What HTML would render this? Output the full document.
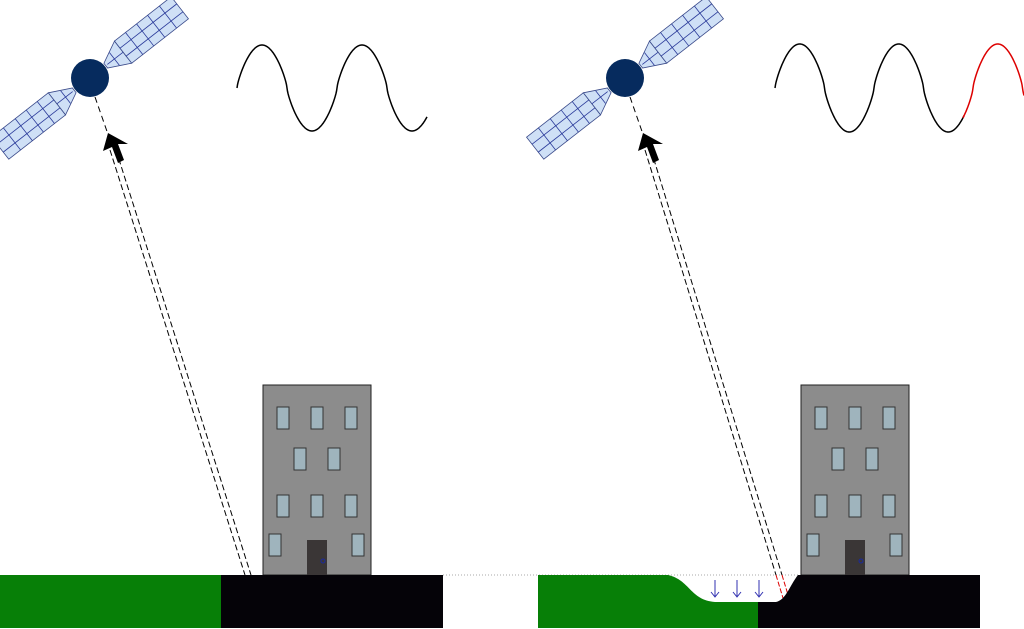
<!DOCTYPE html>
<html><head><meta charset="utf-8"><style>html,body{margin:0;padding:0;background:#fff}svg{display:block}</style></head>
<body>
<svg width="1024" height="629" viewBox="0 0 1024 629" xmlns="http://www.w3.org/2000/svg">
<defs>
<g id="panel">
  <polygon points="20,-3 42,-14 42,14 20,3" fill="#cfe0f6" stroke="#3a4a8a" stroke-width="0.8"/>
  <line x1="22" y1="0" x2="42" y2="0" stroke="#2a3a9a" stroke-width="0.8"/>
  <line x1="31" y1="-8" x2="31" y2="8" stroke="#2a3a9a" stroke-width="0.8"/>
  <rect x="42" y="-14" width="72" height="28" fill="#cfe0f6" stroke="#3a4a8a" stroke-width="0.8"/>
  <g stroke="#2a3a9a" stroke-width="0.8">
    <line x1="56" y1="-14" x2="56" y2="14"/><line x1="70" y1="-14" x2="70" y2="14"/>
    <line x1="84" y1="-14" x2="84" y2="14"/><line x1="99" y1="-14" x2="99" y2="14"/>
    <line x1="42" y1="-5" x2="114" y2="-5"/><line x1="42" y1="5" x2="114" y2="5"/>
  </g>
</g>
<g id="sat">
  <g transform="rotate(-38)"><use href="#panel"/></g>
  <g transform="rotate(142)"><use href="#panel"/></g>
  <circle cx="0" cy="0" r="19" fill="#062b5e"/>
</g>
<g id="bldg">
  <rect x="263" y="385" width="108" height="190" fill="#8c8c8c" stroke="#222" stroke-width="1"/>
  <g fill="#9fb4bd" stroke="#333" stroke-width="1">
    <rect x="277" y="407" width="12" height="22"/><rect x="311" y="407" width="12" height="22"/><rect x="345" y="407" width="12" height="22"/>
    <rect x="294" y="448" width="12" height="22"/><rect x="328" y="448" width="12" height="22"/>
    <rect x="277" y="495" width="12" height="22"/><rect x="311" y="495" width="12" height="22"/><rect x="345" y="495" width="12" height="22"/>
    <rect x="269" y="534" width="12" height="22"/><rect x="352" y="534" width="12" height="22"/>
  </g>
  <rect x="307" y="540" width="20" height="35" fill="#3a3636"/>
  <circle cx="323" cy="561" r="2" fill="none" stroke="#1a2aa0" stroke-width="1"/>
</g>
<g id="arrow">
  <polygon points="108,133 103,151 112,147 118,163 124,160 118,144 128,144" fill="#000"/>
</g>
</defs>

<use href="#sat" transform="translate(90,78)"/>
<line x1="95" y1="97" x2="110" y2="140" stroke="#000" stroke-width="1" stroke-dasharray="6,4"/>
<line x1="110" y1="150" x2="245" y2="575" stroke="#000" stroke-width="1" stroke-dasharray="6,3"/>
<line x1="116" y1="150" x2="251" y2="575" stroke="#000" stroke-width="1" stroke-dasharray="6,3"/>
<use href="#arrow"/>
<use href="#bldg"/>
<rect x="0" y="575" width="221" height="53" fill="#077f07"/>
<rect x="221" y="575" width="222" height="53" fill="#050308"/>

<line x1="443" y1="575" x2="800" y2="575" stroke="#aaa" stroke-width="1" stroke-dasharray="1,2"/>

<use href="#sat" transform="translate(625,78)"/>
<line x1="630" y1="97" x2="645" y2="140" stroke="#000" stroke-width="1" stroke-dasharray="6,4"/>
<line x1="645" y1="150" x2="776" y2="575" stroke="#000" stroke-width="1" stroke-dasharray="6,3"/>
<line x1="651" y1="150" x2="782" y2="575" stroke="#000" stroke-width="1" stroke-dasharray="6,3"/>
<line x1="776" y1="575" x2="783" y2="598" stroke="#d00" stroke-width="1" stroke-dasharray="5,2"/>
<line x1="782" y1="575" x2="789" y2="598" stroke="#d00" stroke-width="1" stroke-dasharray="5,2"/>
<use href="#arrow" transform="translate(535,0)"/>
<use href="#bldg" transform="translate(538,0)"/>
<path d="M538,575 L668,575 C690,580 690,600 715,602 L758,602 L758,628 L538,628 Z" fill="#077f07"/>
<path d="M758,602 L776,602 C786,600 790,585 798,575 L980,575 L980,628 L758,628 Z" fill="#050308"/>
<g stroke="#3030b0" stroke-width="1" fill="none">
  <path d="M715,580 V597 M711,592 L715,597 L719,592"/>
  <path d="M737,580 V597 M733,592 L737,597 L741,592"/>
  <path d="M759,580 V597 M755,592 L759,597 L763,592"/>
</g>

<path id="w1" fill="none" stroke="#000" stroke-width="1.5"/>
<path id="w2" fill="none" stroke="#000" stroke-width="1.5"/>
<path id="w3" fill="none" stroke="#d00" stroke-width="1.5"/>
<script>
function pts(x0,x1,ph0,period,cy,amp){var s=[];for(var x=x0;x<=x1+0.01;x+=0.5){var t=(x-ph0)/period*2*Math.PI;var v=Math.sin(t);v=(v<0?-1:1)*Math.pow(Math.abs(v),0.75);s.push((s.length?'L':'M')+x.toFixed(1)+','+(cy-amp*v).toFixed(1));}return s.join(' ');}
document.getElementById('w1').setAttribute('d',pts(237,427,237,100,88,43));
document.getElementById('w2').setAttribute('d',pts(775,964,775,99,88,44));
document.getElementById('w3').setAttribute('d',pts(963,1024,775,99,88,44));
</script>
</svg>
</body></html>
